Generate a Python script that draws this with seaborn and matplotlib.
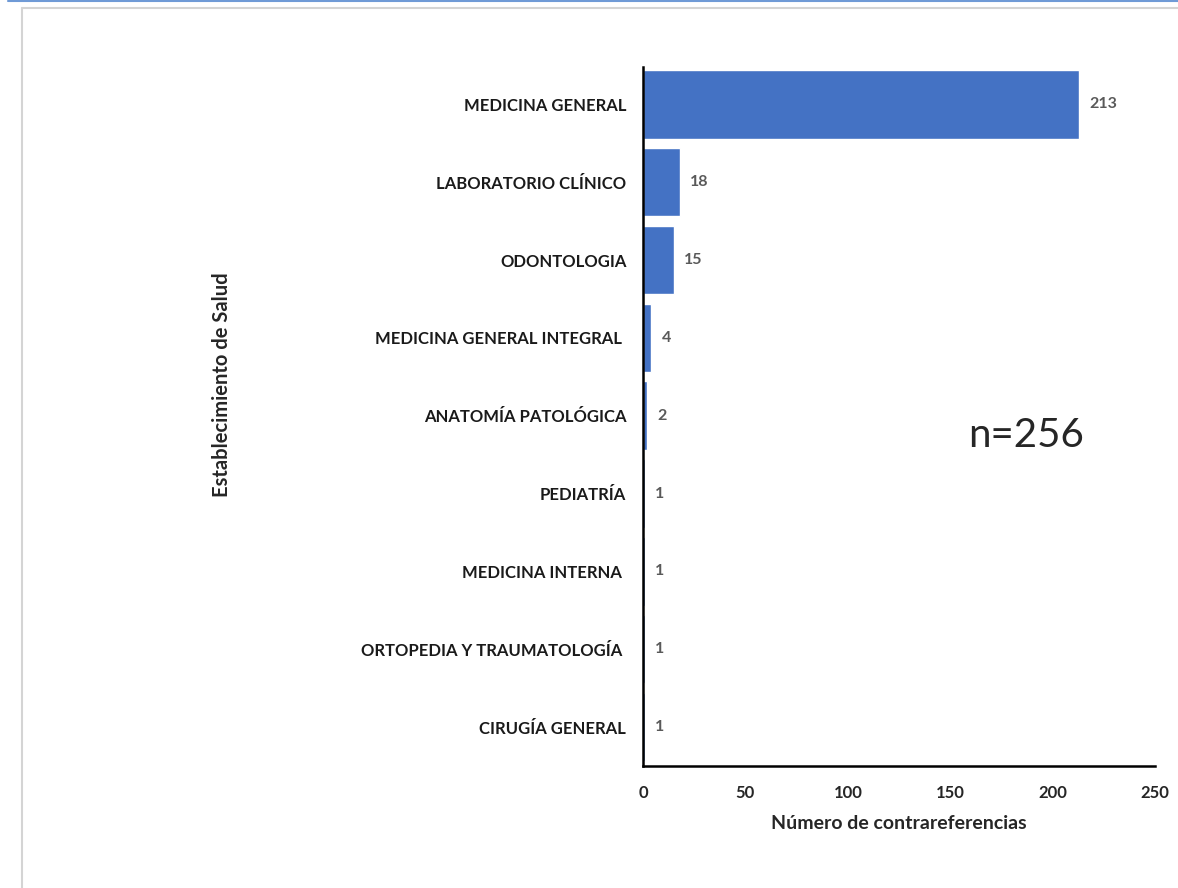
import matplotlib
matplotlib.use("Agg")
import matplotlib.pyplot as plt
import seaborn as sns
import pandas as pd
from matplotlib.lines import Line2D

categorias = [
    "MEDICINA GENERAL",
    "LABORATORIO CLÍNICO",
    "ODONTOLOGIA",
    "MEDICINA GENERAL INTEGRAL ",
    "ANATOMÍA PATOLÓGICA",
    "PEDIATRÍA",
    "MEDICINA INTERNA ",
    "ORTOPEDIA Y TRAUMATOLOGÍA ",
    "CIRUGÍA GENERAL",
]
valores = [213, 18, 15, 4, 2, 1, 1, 1, 1]
xticks = [0, 50, 100, 150, 200, 250]

df = pd.DataFrame({"cat": categorias, "n": valores})

sns.set_style("white")
plt.rcParams["font.family"] = ["Lato", "DejaVu Sans"]

fig = plt.figure(figsize=(11.78, 8.88), dpi=100)
ax = fig.add_axes([643 / 1178, 1 - 766 / 888, (1155 - 643) / 1178, (766 - 67) / 888])

sns.barplot(data=df, y="cat", x="n", color="#4472C4", saturation=1, width=0.88, ax=ax, orient="h")

ax.set_xlim(0, 250)
ax.set_ylim(8.5, -0.48)
ax.set_xticks(xticks)
ax.set_xticklabels([str(t) for t in xticks], fontsize=12, fontweight="bold")
ax.tick_params(axis="both", length=0, pad=12)
ax.tick_params(axis="x", pad=14)
for lab in ax.get_yticklabels():
    lab.set_fontweight("bold")
    lab.set_fontsize(12)
    lab.set_color("#1a1a1a")

for s in ["top", "right"]:
    ax.spines[s].set_visible(False)
for s in ["left", "bottom"]:
    ax.spines[s].set_color("black")
    ax.spines[s].set_linewidth(1.8)

for i, v in enumerate(valores):
    ax.text(v + 5, i, str(v), va="center", ha="left", fontsize=11.5, fontweight="bold", color="#595959")

ax.set_xlabel("Número de contrareferencias", fontsize=14, fontweight="bold", labelpad=10)
ax.set_ylabel("")
fig.text(222 / 1178, 1 - 385 / 888, "Establecimiento de Salud", rotation=90, ha="center", va="center",
         fontsize=14.5, fontweight="bold")

ax.text(1026 / 1178, 1 - 435 / 888, "n=256", transform=fig.transFigure, ha="center", va="center", fontsize=29)

# screenshot frame
fig.add_artist(Line2D([8 / 1178, 1], [1 - 1 / 888, 1 - 1 / 888], color="#6f9ad6", lw=1.5, transform=fig.transFigure))
fig.add_artist(Line2D([22 / 1178, 22 / 1178], [0, 1 - 8 / 888], color="#d4d4d4", lw=1.5, transform=fig.transFigure))
fig.add_artist(Line2D([22 / 1178, 1], [1 - 8 / 888, 1 - 8 / 888], color="#d4d4d4", lw=1.5, transform=fig.transFigure))

fig.savefig("out.png", dpi=100)
